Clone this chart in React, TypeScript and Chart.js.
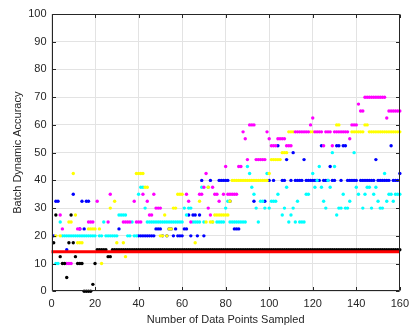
import React, { useEffect, useRef } from "react";
import { Chart, registerables } from "chart.js";

Chart.register(...registerables);

// x = number of data points sampled (1..160); y = batch dynamic accuracy (%), null = no visible mark
const xTicks = [0, 20, 40, 60, 80, 100, 120, 140, 160];
const yTicks = [0, 10, 20, 30, 40, 50, 60, 70, 80, 90, 100];

const redX = [0, 160];
const redY = [14.3, 14.3];

const blackY: (number | null)[] = [
  17.5, 27.5, null, 12.5, 10, 10, 5, 17.5, 27.5, 17.5, 12.5, 10, 10, 10, 0, 0, 0, 0, 2.5, 10,
  15, 15, 15, 15, 15, 12.5, 12.5, 15, 15, 15, 15, 15, 15, 15, 15, 15, 15, 15, 15, 15,
  15, 15, 15, 15, 15, 15, 15, 15, 15, 15, 15, 15, 15, 15, 15, 15, 15, 15, 15, 15,
  15, 15, 15, 15, 15, 15, 15, 15, 15, 15, 15, 15, 15, 15, 15, 15, 15, 15, 15, 15,
  15, 15, 15, 15, 15, 15, 15, 15, 15, 15, 15, 15, 15, 15, 15, 15, 15, 15, 15, 15,
  15, 15, 15, 15, 15, 15, 15, 15, 15, 15, 15, 15, 15, 15, 15, 15, 15, 15, 15, 15,
  15, 15, 15, 15, 15, 15, 15, 15, 15, 15, 15, 15, 15, 15, 15, 15, 15, 15, 15, 15,
  15, 15, 15, 15, 15, 15, 15, 15, 15, 15, 15, 15, 15, 15, 15, 15, 15, 15, 15, 15,
];

const magentaY: (number | null)[] = [
  null, null, null, 27.5, 22.5, null, 10, 10, 10, null, null, 22.5, 22.5, null, null, null, 25, 25, 25, null,
  32.5, null, null, null, null, 25, 35, null, null, null, null, null, 25, 25, 25, 25, null, 32.5, 25, 25,
  25, 35, null, 32.5, 27.5, 27.5, 35, 30, 30, 30, null, null, null, null, null, null, null, null, null, null,
  null, 35, 32.5, 25, null, null, null, 35, 35, 37.5, 42.5, 30, 27.5, 37.5, 35, 35, 32.5, null, 35, 45,
  35, 35, 35, 35, 35, 45, 45, 57.5, 55, 47.5, 60, 60, 60, 47.5, 47.5, 47.5, 47.5, 47.5, 57.5, 55,
  52.5, 52.5, 52.5, 55, 55, 55, 55, 52.5, 52.5, 52.5, null, 57.5, 57.5, 57.5, 57.5, 57.5, 57.5, 57.5, 60, 62.5,
  57.5, 57.5, 57.5, 57.5, 52.5, 57.5, 57.5, 57.5, 52.5, 57.5, 57.5, 57.5, 57.5, 57.5, 57.5, 57.5, 55, 60, 60, 60,
  67.5, 65, 65, 70, 70, 70, 70, 70, 70, 70, 70, 70, 70, 62.5, 65, 65, 65, 65, 65, 65,
];

const yellowY: (number | null)[] = [
  null, 20, null, 20, null, null, null, 25, 25, 42.5, 27.5, 17.5, 17.5, 17.5, null, null, 22.5, 22.5, 22.5, 22.5,
  null, 22.5, 10, null, null, null, 30, null, 32.5, 17.5, null, null, 17.5, 12.5, null, null, null, null, 42.5, 42.5,
  42.5, 42.5, 37.5, 37.5, null, null, null, null, null, 20, 20, 27.5, 20, 22.5, 22.5, 30, 30, 35, 35, 35,
  null, null, null, null, null, 17.5, null, 32.5, null, null, 25, 37.5, 25, 25, 27.5, 27.5, 27.5, 27.5, 27.5, 27.5,
  27.5, 32.5, 40, 40, 40, 40, 40, 40, 40, 40, 40, 40, 40, 40, 40, 40, 40, 40, 40, 42.5,
  47.5, 47.5, 47.5, 47.5, 47.5, 50, 50, 50, 57.5, 57.5, 57.5, null, null, null, null, null, null, null, 57.5, 57.5,
  null, null, null, null, null, null, null, null, null, null, 60, 60, null, null, null, null, null, 57.5, 57.5, 57.5,
  57.5, 57.5, 57.5, 60, 60, 57.5, 57.5, 57.5, 57.5, 57.5, 57.5, 57.5, 57.5, 57.5, 57.5, 57.5, 57.5, 57.5, 57.5, 57.5,
];

const cyanY: (number | null)[] = [
  null, 10, 10, 25, 20, 20, 20, 20, 20, 20, 20, 20, 20, 20, 20, 20, 20, 20, 20, 20,
  null, 20, 20, 25, 20, 20, 20, 20, 20, 20, 27.5, 27.5, 27.5, 27.5, 20, 20, 25, 20, 20, 35,
  37.5, 37.5, 30, 25, 25, 25, 25, 25, 25, 25, 25, 25, 25, 25, 25, 25, 25, 25, 25, 25,
  30, 27.5, 30, 30, 25, 25, 25, 25, 37.5, 25, null, 37.5, null, 25, null, 25, 25, 25, 25, 30,
  32.5, 25, 25, 25, 25, 25, 25, 25, 25, 45, 42.5, 37.5, 35, 30, 25, 32.5, 32.5, 30, 42.5, 30,
  32.5, 32.5, 32.5, 35, null, 27.5, 30, 37.5, 25, 27.5, 30, 25, 32.5, 25, 25, 25, 35, 35, null, 42.5,
  37.5, 40, 45, 37.5, 32.5, 30, 40, 37.5, 50, 45, 27.5, 30, 30, 35, 30, 30, 32.5, null, 50, 37.5,
  35, null, 30, 35, 37.5, 37.5, 30, 35, 37.5, 32.5, 30, 30, 42.5, 32.5, 35, 35, 32.5, 35, 35, 35,
];

const blueY: (number | null)[] = [
  20, 32.5, 32.5, null, null, null, 15, null, null, 35, null, null, 22.5, 32.5, 22.5, 32.5, 32.5, null, null, null,
  null, null, null, null, null, null, null, null, null, null, 22.5, null, null, null, null, null, null, null, null, 20,
  20, 20, 20, 20, 20, 20, 20, 22.5, 22.5, 22.5, 20, null, 20, 22.5, 22.5, 20, 22.5, 20, 20, 20,
  22.5, 22.5, 27.5, 20, 27.5, 27.5, 20, 27.5, 40, 20, null, null, 40, null, null, null, 40, 40, 40, 40,
  40, 32.5, null, 22.5, 22.5, 22.5, null, null, null, null, null, null, 32.5, null, null, null, null, 32.5, null, 40,
  null, 40, null, 52.5, null, 40, 40, 47.5, null, 40, 50, 40, 40, 40, 40, 47.5, 40, 40, 40, 40,
  40, 40, 40, 52.5, 40, 40, 40, 45, 40, 40, 52.5, 52.5, 40, 52.5, 52.5, 40, 40, 40, 40, 40,
  null, 40, 40, 40, 40, 40, 40, 40, 47.5, 40, 40, 40, 40, 40, 40, 52.5, 40, 40, 40, 42.5,
];

const toPoints = (ys: (number | null)[]) =>
  ys
    .map((y, i) => (y === null ? null : { x: i + 1, y }))
    .filter((p) => p !== null) as { x: number; y: number }[];

const AXIS_COLOR = "#262626";
const FONT = "'Liberation Sans', Arial, Helvetica, sans-serif";

const boxPlugin = {
  id: "matlabBox",
  afterDatasetsDraw(chart: any) {
    const { ctx, chartArea, scales } = chart;
    const { left, right, top, bottom } = chartArea;
    ctx.save();
    ctx.strokeStyle = AXIS_COLOR;
    ctx.lineWidth = 1;
    const L = Math.round(left) + 0.5;
    const R = Math.round(right) - 0.5;
    const T = Math.round(top) + 0.5;
    const B = Math.round(bottom) - 0.5;
    ctx.beginPath();
    ctx.rect(L, T, R - L, B - T);
    ctx.stroke();
    const tl = 3.5;
    ctx.beginPath();
    xTicks.forEach((v) => {
      const px = Math.round(scales.x.getPixelForValue(v)) + 0.5;
      ctx.moveTo(px, B);
      ctx.lineTo(px, B - tl);
      ctx.moveTo(px, T);
      ctx.lineTo(px, T + tl);
    });
    yTicks.forEach((v) => {
      const py = Math.round(scales.y.getPixelForValue(v)) + 0.5;
      ctx.moveTo(L, py);
      ctx.lineTo(L + tl, py);
      ctx.moveTo(R, py);
      ctx.lineTo(R - tl, py);
    });
    ctx.stroke();
    ctx.restore();
  },
};

function scatterSet(label: string, ys: (number | null)[], color: string) {
  return {
    label,
    data: toPoints(ys),
    backgroundColor: color,
    borderColor: color,
    borderWidth: 0,
    pointRadius: 1.7,
    pointHoverRadius: 1.7,
    showLine: false,
    clip: false as any,
  };
}

export default function App() {
  const ref = useRef<HTMLCanvasElement | null>(null);

  useEffect(() => {
    if (!ref.current) return;
    const chart = new Chart(ref.current, {
      type: "scatter",
      data: {
        datasets: [
          {
            label: "red",
            data: redX.map((x, i) => ({ x, y: redY[i] })),
            borderColor: "#ff0000",
            backgroundColor: "#ff0000",
            borderWidth: 3,
            pointRadius: 0,
            showLine: true,
            clip: false as any,
          },
          scatterSet("black", blackY, "#000000"),
          scatterSet("magenta", magentaY, "#ff00ff"),
          scatterSet("yellow", yellowY, "#ffff00"),
          scatterSet("cyan", cyanY, "#00ffff"),
          scatterSet("blue", blueY, "#0000ff"),
        ],
      },
      options: {
        animation: false,
        responsive: false,
        devicePixelRatio: 1,
        events: [],
        layout: { padding: { top: 14, right: 11, left: 0, bottom: 0 } },
        plugins: {
          legend: { display: false },
          tooltip: { enabled: false },
          title: { display: false },
        },
        scales: {
          x: {
            type: "linear",
            min: 0,
            max: 160,
            afterBuildTicks: (scale: any) => {
              scale.ticks = xTicks.map((v) => ({ value: v }));
            },
            afterFit: (scale: any) => {
              scale.height = 39.7;
            },
            ticks: {
              color: AXIS_COLOR,
              font: { family: FONT, size: 11 },
              padding: 6,
              maxRotation: 0,
            },
            grid: { color: "#e3e3e3", lineWidth: 1, drawTicks: false },
            border: { display: false },
            title: {
              display: true,
              text: "Number of Data Points Sampled",
              color: AXIS_COLOR,
              font: { family: FONT, size: 11 },
              padding: { top: 0, bottom: 4 },
            },
          },
          y: {
            type: "linear",
            min: 0,
            max: 100,
            afterBuildTicks: (scale: any) => {
              scale.ticks = yTicks.map((v) => ({ value: v }));
            },
            afterFit: (scale: any) => {
              scale.width = 51.5;
            },
            ticks: {
              color: AXIS_COLOR,
              font: { family: FONT, size: 11 },
              padding: 5,
            },
            grid: { color: "#e3e3e3", lineWidth: 1, drawTicks: false },
            border: { display: false },
            title: {
              display: true,
              text: "Batch Dynamic Accuracy",
              color: AXIS_COLOR,
              font: { family: FONT, size: 11 },
              padding: { top: 11, bottom: 0 },
            },
          },
        },
      },
      plugins: [boxPlugin],
    } as any);
    return () => chart.destroy();
  }, []);

  return (
    <div style={{ position: "fixed", left: 0, top: 0, width: 415, height: 331, background: "#ffffff" }}>
      <canvas ref={ref} width={415} height={331} style={{ width: 415, height: 331, display: "block" }} />
    </div>
  );
}
